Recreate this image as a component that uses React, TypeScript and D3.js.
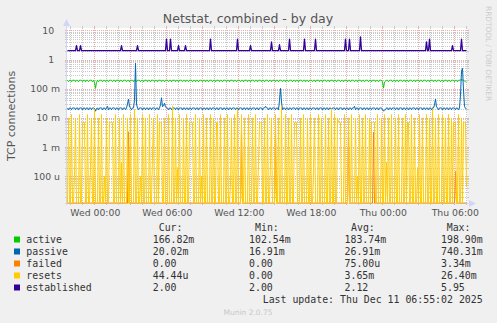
import React from "react";
import * as d3 from "d3";

const W = 497;
const H = 323;
const plot = { left: 67, right: 467, top: 28, bottom: 203 };

const startTime = Date.UTC(2025, 11, 9, 21, 43, 30);
const stepMs = 300 * 1000;
const sampleCount = 400;

const yDomain: [number, number] = [1.22e-5, 12];
const yTickValues = [10, 1, 0.1, 0.01, 0.001, 0.0001];
const yTickLabels = ["10  ", "1  ", "100 m", "10 m", "1 m", "100 u"];

const seriesNames = ["active", "passive", "failed", "resets", "established"];
const seriesColors = ["#00CC00", "#0066B3", "#FF8000", "#FFCC00", "#330099"];
const curLabels = ["166.82m", " 20.02m", "  0.00 ", " 44.44u", "  2.00 "];
const minLabels = ["102.54m", " 16.91m", "  0.00 ", "  0.00 ", "  2.00 "];
const avgLabels = ["183.74m", " 26.91m", " 75.00u", "  3.65m", "  2.12 "];
const maxLabels = ["198.90m", "740.31m", "  3.34m", " 26.40m", "  5.95 "];

// active connections per second, in milli units, one value per 5-minute sample
const activeMilli = [
  196,174,195,196,172,195,195,196,174,195,195,172,196,195,195,174,195,195,172,196,
  195,174,195,195,196,172,195,165,103,165,195,174,195,195,196,172,195,195,174,195,
  196,172,195,195,195,174,195,196,172,195,195,195,174,195,195,172,196,195,195,174,
  195,195,172,196,195,195,174,195,195,172,196,195,195,174,195,195,172,195,196,195,
  174,195,195,172,196,195,195,174,195,195,172,195,196,195,174,195,195,172,196,195,
  195,174,195,196,172,195,195,196,174,195,195,172,196,195,195,174,195,195,172,196,
  195,174,195,195,196,172,195,195,174,195,196,172,195,195,195,174,195,196,172,195,
  196,172,195,195,195,174,195,196,172,195,195,195,174,195,195,172,196,195,195,174,
  195,195,172,196,195,195,174,195,195,172,196,195,195,174,195,195,172,195,196,195,
  174,195,195,172,196,195,195,174,195,195,172,195,196,195,174,195,195,172,196,195,
  195,174,195,196,172,195,195,196,174,195,195,172,196,195,195,174,195,195,172,196,
  195,174,195,195,196,172,195,195,174,195,196,172,195,195,195,174,195,196,172,195,
  196,172,195,195,195,174,195,196,172,195,195,195,174,195,195,172,196,195,195,174,
  195,195,172,196,195,195,174,195,195,172,196,195,195,174,195,195,172,195,196,195,
  174,195,195,172,196,195,195,174,195,195,172,195,196,195,174,195,195,172,196,195,
  195,174,195,196,172,195,195,196,174,195,195,172,196,195,195,170,105,170,180,196,
  195,174,195,195,196,172,195,195,174,195,196,172,195,195,195,174,195,196,172,195,
  196,172,195,195,195,174,195,196,172,195,195,195,174,195,195,172,196,195,195,174,
  195,195,172,196,195,195,174,195,195,172,196,195,195,174,195,195,172,195,196,195,
  174,195,195,172,196,195,195,174,195,195,172,195,196,200,205,200,195,185,175,167,
];

// passive connections per second, in milli units
const passiveMilli = [
  22,19,22,22,19,22,22,22,19,22,22,19,22,22,22,19,22,22,19,22,
  22,19,22,22,19,22,22,21,17,21,22,19,22,22,22,19,22,22,19,22,
  25,19,22,22,19,22,22,22,19,22,22,19,22,22,22,19,22,22,19,22,
  30,44,24,22,19,22,22,40,740,30,22,19,22,22,22,19,22,22,19,22,
  22,19,22,22,19,22,22,22,19,22,22,19,22,28,49,24,26,32,24,22,
  22,19,22,22,19,22,22,22,19,22,22,19,22,22,22,19,22,22,19,22,
  22,19,22,22,19,22,22,22,19,22,22,19,22,22,22,19,22,22,19,22,
  22,19,22,22,19,22,22,22,19,22,22,19,22,22,22,19,22,22,19,22,
  22,19,22,22,19,22,22,22,19,22,22,19,22,22,22,19,22,22,19,22,
  22,19,22,22,19,22,22,22,19,22,22,19,22,22,22,19,22,22,25,22,
  22,19,22,22,19,22,22,22,19,22,22,19,40,103,35,19,22,22,19,22,
  22,19,22,22,19,22,22,22,19,22,22,19,22,22,22,19,22,22,19,22,
  22,19,22,22,19,22,22,22,19,22,22,19,22,22,22,19,22,22,19,22,
  22,19,22,22,19,22,22,22,19,22,22,19,22,22,22,19,22,22,19,22,
  22,19,22,22,19,22,22,25,19,22,22,19,22,22,22,19,22,22,19,22,
  22,19,22,22,19,22,22,22,19,22,22,19,22,22,22,19,17,19,19,22,
  22,19,22,22,19,22,22,22,19,22,22,19,22,22,22,19,22,22,19,22,
  22,19,22,22,19,22,22,22,19,22,22,19,22,22,22,19,22,22,19,22,
  22,19,22,22,19,22,22,28,44,24,22,19,22,22,22,19,22,22,19,22,
  22,19,22,22,19,22,22,22,19,22,22,19,22,60,400,500,90,25,21,20.02,
];

// failed: zero except these samples [sampleIndex, milli]
const failedSpikes = [
  [61, 3.34], [174, 3.3], [208, 3.3], [281, 3.3], [306, 3.3], [388, 0.15],
];

// resets per second, in milli units
const resetsMilli = [
  0,10,0,0,13,0,0,0.1,10,0,0,0,13,0,0,7,7,7,0,0,
  13,0,0,0.2,10,0,0,20,0,0,0,10,0,0,13,0,0,0.1,0,10,
  0,0,7,7,7,7,0,0,13,0,0,0,10,0,0.3,0,13,0,0,0,
  10,0,0,13,0,0,0,20,0,0,10,0,0,0.1,0,13,0,0,10,0,
  0,0,13,0,0,0.5,10,0,0,0,13,0,7,7,7,0,0,10,0,0,
  0,13,0,0,0,26,0,0,10,0,0.2,0,13,0,0,0,10,0,0,13,
  0,0,7,7,7,7,0,0,13,0,0,0,10,0,0.1,0,13,0,0,10,
  0,0,0,13,0,0,10,0,0,7,7,0,0,13,0,0,0,10,0,0,
  13,0,0,0.05,10,0,0,13,0,0,20,0,0,0,13,0,0,10,0,0,
  0,13,0,0,0,10,0,0,13,0,0,0.3,7,7,7,0,0,10,0,0,
  13,0,0,0.3,10,0,0,0,13,0,0,10,0,0,26,0,0,0,13,0,
  0,10,0,0,13,0,0,7,7,7,0,0,0,10,0,0,13,0,0,0,
  10,0,0,13,0,0,0.2,10,0,0,0,13,0,0,10,0,0,0,13,0,
  0,10,0,0,20,0,0,13,0,0,10,7,7,7,0,0,0,13,0,0,
  0,10,0,0,13,0,0,0,10,0,0.1,0,13,0,0,10,0,0,13,0,
  0,0,10,0,7,7,7,7,0,0,13,0,0,0,10,0,0,13,0,0.3,
  0,10,0,0,13,0,0,0,10,0,0,13,0,0,0,10,0,0,13,0,
  7,7,0,0,13,0,0,10,0,0,0.2,0,13,0,0,10,0,0,0,13,
  0,0,10,0,0,20,0,0,10,0,0,13,0,0,0,13,0,0,10,0,
  0,13,0,0,10,0,7,7,7,0,0,13,0,0,10,0,7,7,7,0.044,
];

// established: 2.00 except these samples [sampleIndex, value]
const establishedBase = 2;
const establishedSpikes = [
  [9, 3], [13, 3], [54, 3], [70, 3], [99, 5], [103, 5], [111, 3], [118, 3],
  [143, 5], [170, 5], [183, 3], [204, 4], [212, 3.2], [222, 5], [237, 5],
  [248, 5], [278, 5], [282, 5], [293, 5.95], [359, 4], [362, 5], [385, 3], [394, 5],
];

function buildSeries() {
  const active = activeMilli.map((v) => v / 1000);
  const passive = passiveMilli.map((v) => v / 1000);
  const resets = resetsMilli.map((v) => v / 1000);
  const failed = new Array(sampleCount).fill(0);
  failedSpikes.forEach(([i, v]) => (failed[i] = v / 1000));
  const established = new Array(sampleCount).fill(establishedBase);
  establishedSpikes.forEach(([i, v]) => (established[i] = v));
  return [active, passive, failed, resets, established];
}

export default function App() {
  const x = d3
    .scaleUtc()
    .domain([new Date(startTime), new Date(startTime + sampleCount * stepMs)])
    .range([plot.left, plot.right]);
  const y = d3.scaleLog().domain(yDomain).range([plot.bottom, plot.top]).clamp(true);

  const series = buildSeries();
  const timeOf = (i: number) => new Date(startTime + (i + 0.5) * stepMs);
  const line = d3
    .line<number>()
    .x((_, i) => x(timeOf(i)))
    .y((v) => (v > 0 ? y(v) : plot.bottom));

  const t0 = x.domain()[0];
  const t1 = x.domain()[1];
  const hours = d3.utcHour.range(t0, t1);
  const minorHours = hours.filter((d) => d.getUTCHours() % 3 !== 0);
  const majorHours = hours.filter((d) => d.getUTCHours() % 3 === 0);
  const labelHours = hours.filter((d) => d.getUTCHours() % 6 === 0);
  const fmt = d3.utcFormat("%a %H:%M");

  const minorY: number[] = [];
  for (let e = -5; e <= 1; e++) {
    for (let m = 2; m <= 9; m++) {
      const v = m * Math.pow(10, e);
      if (v > yDomain[0] && v < yDomain[1]) minorY.push(v);
    }
  }

  const px = (v: number) => Math.round(v) + 0.5;
  const minorColor = "#c9c9c9";
  const majorColor = "#eeaaaa";
  const mono = "'DejaVu Sans Mono', monospace";
  const sans = "'DejaVu Sans', sans-serif";

  const rowY = (k: number) => 243 + 12 * k;

  return (
    <svg width={W} height={H} style={{ display: "block", position: "absolute", left: 0, top: 0 }}>
      <defs>
        <clipPath id="plotClip">
          <rect x={plot.left} y={plot.top} width={plot.right - plot.left} height={plot.bottom - plot.top + 1} />
        </clipPath>
      </defs>
      <rect x={0} y={0} width={W} height={H} fill="#F0F0F0" />
      <rect x={plot.left} y={plot.top} width={plot.right - plot.left} height={plot.bottom - plot.top} fill="#FFFFFF" />

      <g shapeRendering="crispEdges">
        {minorY.map((v, i) => (
          <g key={"my" + i}>
            <line x1={plot.left} x2={plot.right} y1={px(y(v))} y2={px(y(v))} stroke={minorColor} strokeDasharray="1,1" />
            <line x1={plot.left - 2} x2={plot.left} y1={px(y(v))} y2={px(y(v))} stroke={minorColor} />
            <line x1={plot.right} x2={plot.right + 2} y1={px(y(v))} y2={px(y(v))} stroke={minorColor} />
          </g>
        ))}
        {minorHours.map((d, i) => (
          <g key={"mx" + i}>
            <line x1={px(x(d))} x2={px(x(d))} y1={plot.top} y2={plot.bottom} stroke={minorColor} strokeDasharray="1,1" />
            <line x1={px(x(d))} x2={px(x(d))} y1={plot.top - 2} y2={plot.top} stroke={minorColor} />
            <line x1={px(x(d))} x2={px(x(d))} y1={plot.bottom} y2={plot.bottom + 2} stroke={minorColor} />
          </g>
        ))}
        {yTickValues.map((v, i) => (
          <g key={"My" + i}>
            <line x1={plot.left} x2={plot.right} y1={px(y(v))} y2={px(y(v))} stroke={majorColor} strokeDasharray="1,1" />
            <line x1={plot.left - 2} x2={plot.left} y1={px(y(v))} y2={px(y(v))} stroke={majorColor} />
            <line x1={plot.right} x2={plot.right + 2} y1={px(y(v))} y2={px(y(v))} stroke={majorColor} />
          </g>
        ))}
        {majorHours.map((d, i) => (
          <g key={"Mx" + i}>
            <line x1={px(x(d))} x2={px(x(d))} y1={plot.top} y2={plot.bottom} stroke={majorColor} strokeDasharray="1,1" />
            <line x1={px(x(d))} x2={px(x(d))} y1={plot.top - 2} y2={plot.top} stroke={majorColor} />
            <line x1={px(x(d))} x2={px(x(d))} y1={plot.bottom} y2={plot.bottom + 2} stroke={majorColor} />
          </g>
        ))}
      </g>

      {/* axes */}
      <g shapeRendering="crispEdges">
        <line x1={plot.left - 0.5} x2={plot.left - 0.5} y1={plot.bottom + 2} y2={plot.top - 6} stroke="#CFD6F8" />
        <line x1={plot.left - 2} x2={plot.right + 4} y1={plot.bottom + 0.5} y2={plot.bottom + 0.5} stroke="#CFD6F8" />
      </g>
      <path d={`M${plot.left - 4},${plot.top - 2} L${plot.left - 0.5},${plot.top - 9} L${plot.left + 3},${plot.top - 2} Z`} fill="#CFD6F8" />
      <path d={`M${plot.right + 2},${plot.bottom - 3} L${plot.right + 9},${plot.bottom + 0.5} L${plot.right + 2},${plot.bottom + 4} Z`} fill="#CFD6F8" />

      <g clipPath="url(#plotClip)" fill="none">
        {series.map((s, k) => (
          <path
            key={seriesNames[k]}
            d={line(s) || ""}
            stroke={seriesColors[k]}
            strokeWidth={k === 4 ? 1.3 : 1}
            strokeLinejoin="round"
          />
        ))}
      </g>

      {/* title */}
      <text x={248} y={22.5} textAnchor="middle" fontFamily={sans} fontSize={12.5} fill="#555555">
        Netstat, combined - by day
      </text>

      {/* y tick labels */}
      {yTickValues.map((v, i) => (
        <text key={"yl" + i} x={60} y={y(v) + 3.4} textAnchor="end" fontFamily={sans} fontSize={9.3} fill="#555555" style={{ whiteSpace: "pre" }}>
          {yTickLabels[i]}
        </text>
      ))}

      {/* x tick labels */}
      {labelHours.map((d, i) => (
        <text key={"xl" + i} x={x(d) + 1} y={216} textAnchor="middle" fontFamily={sans} fontSize={9.3} fill="#555555">
          {fmt(d)}
        </text>
      ))}

      {/* y axis title */}
      <text transform="translate(15,116) rotate(-90)" textAnchor="middle" fontFamily={sans} fontSize={11} fill="#555555">
        TCP connections
      </text>

      {/* watermark */}
      <text transform="translate(485.5,6) rotate(90)" fontFamily={sans} fontSize={7.4} fill="#CCCCCC">
        RRDTOOL / TOBI OETIKER
      </text>

      {/* legend */}
      <g fontFamily={mono} fontSize={9.9} fill="#333333" style={{ whiteSpace: "pre" }}>
        <text x={158.7} y={231}>Cur:</text>
        <text x={255} y={231}>Min:</text>
        <text x={351} y={231}>Avg:</text>
        <text x={446.7} y={231}>Max:</text>
        {seriesNames.map((name, k) => (
          <g key={"lg" + name}>
            <rect x={14} y={rowY(k) - 6.5} width={6} height={6} fill={seriesColors[k]} />
            <text x={26.3} y={rowY(k)}>{name}</text>
            <text x={152.7} y={rowY(k)}>{curLabels[k]}</text>
            <text x={249} y={rowY(k)}>{minLabels[k]}</text>
            <text x={344.5} y={rowY(k)}>{avgLabels[k]}</text>
            <text x={441} y={rowY(k)}>{maxLabels[k]}</text>
          </g>
        ))}
        <text x={482.7} y={303} textAnchor="end">Last update: Thu Dec 11 06:55:02 2025</text>
      </g>

      <text x={248} y={314.5} textAnchor="middle" fontFamily={sans} fontSize={7.5} fill="#C8C8C8">
        Munin 2.0.75
      </text>
    </svg>
  );
}
